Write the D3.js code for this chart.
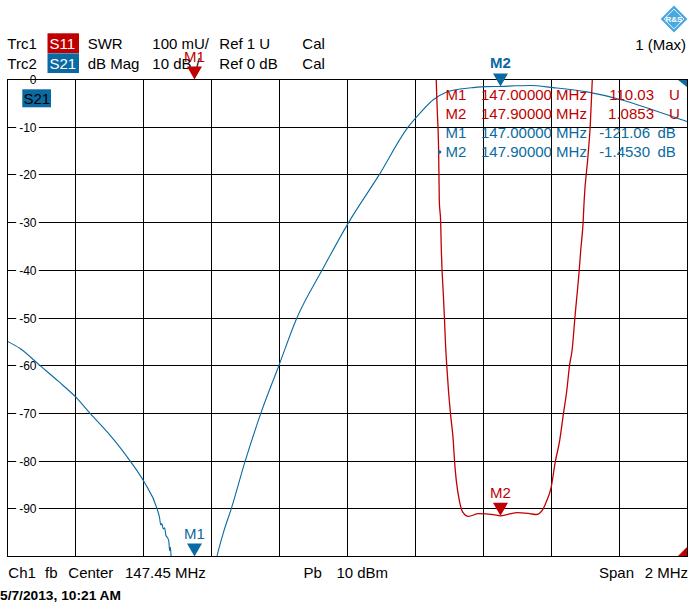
<!DOCTYPE html>
<html>
<head>
<meta charset="utf-8">
<title>Trc1 S11 SWR / Trc2 S21 dB Mag</title>
<script src="https://d3js.org/d3.v7.min.js"></script>
<style>
  body { margin: 0; background: #fff; }
  text { font-family: "Liberation Sans", Arial, sans-serif; }
  .grid line { stroke: #000; stroke-width: 1; shape-rendering: crispEdges; }
</style>
</head>
<body>
<script>
/* ---------- data ---------- */
var freqStart = 146.45, freqStop = 148.45;        // center 147.45 MHz, span 2 MHz
var dbTicks = [0, -10, -20, -30, -40, -50, -60, -70, -80, -90];

// Trc2: S21, dB Mag (MHz, dB)
var s21Freq = [146.450, 146.487, 146.546, 146.600, 146.651, 146.693, 146.752, 146.811, 146.852, 146.890,
               146.897, 146.901, 146.904, 146.908, 146.912, 146.916, 146.920, 146.924, 146.927, 146.929,
               146.932, 146.940, 146.970, 147.000, 147.040, 147.066, 147.085, 147.108, 147.149, 147.195,
               147.248, 147.301, 147.375, 147.453, 147.543, 147.628, 147.664, 147.703, 147.742, 147.781,
               147.820, 147.860, 147.900, 147.945, 147.987, 148.055, 148.154, 148.252, 148.349, 148.449];
var s21Db   = [-54.9, -56.4, -60.0, -63.3, -66.6, -70.0, -74.6, -80.0, -84.4, -90.0,
               -91.8, -93.4, -93.1, -94.2, -94.0, -95.6, -96.0, -96.6, -98.8, -98.0,
               -101.0, -106.0, -112.0, -121.06, -110.0, -100.0, -95.0, -90.0, -80.0, -70.0,
               -60.0, -50.0, -40.0, -30.0, -20.0, -10.0, -7.0, -4.2, -2.6, -2.0,
               -1.7, -1.5, -1.453, -1.32, -1.25, -1.7, -2.6, -4.2, -6.4, -8.8];

// Trc1: S11, SWR (MHz, U)
var s11Freq = [146.450, 147.000, 147.600, 147.700, 147.711, 147.714, 147.718, 147.720, 147.724, 147.726,
               147.732, 147.735, 147.738, 147.742, 147.747, 147.753, 147.761, 147.765, 147.770, 147.779,
               147.789, 147.806, 147.835, 147.879, 147.900, 147.948, 147.985, 148.007, 148.022, 148.036,
               148.049, 148.061, 148.074, 148.085, 148.095, 148.103, 148.111, 148.119, 148.131, 148.136,
               148.143, 148.146, 148.157, 148.164, 148.170, 148.173, 148.190, 148.450];
var s11Swr  = [25.0, 110.03, 8.0, 2.6, 2.0, 1.935, 1.851, 1.746, 1.701, 1.642,
               1.547, 1.502, 1.449, 1.400, 1.348, 1.299, 1.243, 1.198, 1.159, 1.117,
               1.093, 1.084, 1.090, 1.088, 1.0853, 1.092, 1.090, 1.088, 1.096, 1.117,
               1.145, 1.198, 1.243, 1.299, 1.348, 1.400, 1.435, 1.502, 1.596, 1.642,
               1.701, 1.746, 1.837, 1.904, 2.0, 2.04, 3.0, 30.0];

var markerNames = ["M1", "M2"];
var markerFreq  = [147.0, 147.9];
var markerS11   = [110.03, 1.0853];
var markerS21   = [-121.06, -1.453];
var markerS11Text = ["110.03", "1.0853"];
var markerS21Text = ["-121.06", "-1.4530"];

/* ---------- layout ---------- */
var red = "#c00000", blue = "#0b6aa2";
var width = 695, height = 613;
var plot = {left: 7.5, top: 79.5, width: 680, height: 477};
var bottomY = plot.top + plot.height, rightX = plot.left + plot.width;

var svg = d3.select("body").append("svg")
    .attr("width", width).attr("height", height);

var x = d3.scaleLinear().domain([freqStart, freqStop]).range([plot.left, rightX]);
var yDb = d3.scaleLinear().domain([-100, 0]).range([bottomY, plot.top]);
var ySwr = d3.scaleLinear().domain([1, 2]).range([bottomY, plot.top]);

/* ---------- header ---------- */
var traceInfo = [
  {trc: "Trc1", param: "S11", format: "SWR", scale: "100 mU/", ref: "Ref 1 U", cal: "Cal", color: red},
  {trc: "Trc2", param: "S21", format: "dB Mag", scale: "10 dB /", ref: "Ref 0 dB", cal: "Cal", color: blue}
];
traceInfo.forEach(function(t, i){
  var base = 48.5 + i * 20;
  svg.append("rect").attr("x", 47.5).attr("y", base - 15.2).attr("width", 31.5).attr("height", 19.7)
     .attr("fill", t.color);
  svg.append("text").attr("x", 49.5).attr("y", base).attr("font-size", 15).attr("fill", "#fff").text(t.param);
  [[7.3, t.trc], [87.7, t.format], [152.3, t.scale], [219.3, t.ref], [302.3, t.cal]].forEach(function(p){
    svg.append("text").attr("x", p[0]).attr("y", base).attr("font-size", 15).attr("fill", "#000").text(p[1]);
  });
});

svg.append("text").attr("x", 686).attr("y", 50).attr("text-anchor", "end")
   .attr("font-size", 15).text("1 (Max)");

// R&S logo
var logo = svg.append("g").attr("transform", "translate(674,19)");
logo.append("rect").attr("x", -9.5).attr("y", -9.5).attr("width", 19).attr("height", 19)
    .attr("transform", "rotate(45)").attr("fill", "#4aa8df");
logo.append("rect").attr("x", -7).attr("y", -7).attr("width", 14).attr("height", 14)
    .attr("transform", "rotate(45)").attr("fill", "none").attr("stroke", "#fff").attr("stroke-width", 0.8);
logo.append("text").attr("x", 0).attr("y", 3).attr("text-anchor", "middle")
    .attr("font-size", 8).attr("font-weight", "bold").attr("fill", "#fff").text("R&S");

/* ---------- grid ---------- */
var freqGrid = d3.range(11).map(function(i){ return freqStart + i * 0.2; });
var dbGrid = d3.range(11).map(function(i){ return -i * 10; });
var grid = svg.append("g").attr("class", "grid");
grid.selectAll(".v").data(freqGrid).enter().append("line")
    .attr("x1", function(d){ return Math.round(x(d) - 0.5) + 0.5; })
    .attr("x2", function(d){ return Math.round(x(d) - 0.5) + 0.5; })
    .attr("y1", plot.top).attr("y2", bottomY);
grid.selectAll(".h").data(dbGrid).enter().append("line")
    .attr("y1", function(d){ return Math.round(yDb(d) - 0.5) + 0.5; })
    .attr("y2", function(d){ return Math.round(yDb(d) - 0.5) + 0.5; })
    .attr("x1", plot.left).attr("x2", rightX);

// y labels with white background
var yLab = svg.append("g");
dbTicks.forEach(function(v){
  var t = yLab.append("text").attr("x", 36.5).attr("y", yDb(v) + 4.5).attr("text-anchor", "end")
      .attr("font-size", 12).text(v);
  var b = t.node().getBBox();
  yLab.insert("rect", "text").attr("x", b.x - 3).attr("y", yDb(v) - 1).attr("width", b.width + 5)
      .attr("height", 2).attr("fill", "#fff");
});

// S21 label inside the diagram
svg.append("rect").attr("x", 22.3).attr("y", 89.3).attr("width", 28.7).attr("height", 18).attr("fill", blue);
svg.append("text").attr("x", 23.5).attr("y", 104).attr("font-size", 15).attr("fill", "#000").text("S21");

/* ---------- traces ---------- */
svg.append("clipPath").attr("id", "plotClip").append("rect")
   .attr("x", plot.left).attr("y", plot.top).attr("width", plot.width).attr("height", plot.height);

var s21Line = d3.line().x(function(d){ return x(d[0]); }).y(function(d){ return yDb(d[1]); })
    .curve(d3.curveMonotoneX);
var s11Line = d3.line().x(function(d){ return x(d[0]); }).y(function(d){ return ySwr(d[1]); })
    .curve(d3.curveMonotoneX);

var traces = svg.append("g").attr("clip-path", "url(#plotClip)");
traces.append("path").datum(d3.zip(s21Freq, s21Db)).attr("d", s21Line)
    .attr("fill", "none").attr("stroke", blue).attr("stroke-width", 1.1);
traces.append("path").datum(d3.zip(s11Freq, s11Swr)).attr("d", s11Line)
    .attr("fill", "none").attr("stroke", red).attr("stroke-width", 1.3);

// reference position wedges
svg.append("path").attr("d", "M" + (rightX - 10) + "," + plot.top + "L" + rightX + "," + plot.top +
    "L" + rightX + "," + (plot.top + 8) + "Z").attr("fill", blue);
svg.append("path").attr("d", "M" + (rightX - 10) + "," + bottomY + "L" + rightX + "," + bottomY +
    "L" + rightX + "," + (bottomY - 10) + "Z").attr("fill", red);

// frame
svg.append("rect").attr("x", plot.left).attr("y", plot.top).attr("width", plot.width).attr("height", plot.height)
   .attr("fill", "none").attr("stroke", "#000").attr("shape-rendering", "crispEdges");

/* ---------- markers ---------- */
function clampY(v){ return Math.max(plot.top, Math.min(bottomY, v)); }
function drawMarker(fx, yy, name, color, bold){
  var px = x(fx), py = clampY(yy);
  svg.append("path").attr("d", "M" + (px - 7.5) + "," + (py - 13) + "L" + (px + 7.5) + "," + (py - 13) +
      "L" + px + "," + py + "Z").attr("fill", color);
  svg.append("text").attr("x", px).attr("y", py - 18).attr("text-anchor", "middle")
     .attr("font-size", 15).attr("font-weight", bold ? "bold" : "normal").attr("fill", color).text(name);
}
markerNames.forEach(function(m, i){
  drawMarker(markerFreq[i], ySwr(markerS11[i]), m, red, false);
  drawMarker(markerFreq[i], yDb(markerS21[i]), m, blue, i == 1);
});

// marker info table
var rows = [];
markerNames.forEach(function(m, i){ rows.push({name: m, f: markerFreq[i], val: markerS11Text[i], unit: "U", color: red}); });
markerNames.forEach(function(m, i){ rows.push({name: m, f: markerFreq[i], val: markerS21Text[i], unit: "dB", color: blue, active: i == 1}); });
rows.forEach(function(r, i){
  var base = 100 + i * 19;
  var g = svg.append("g").attr("fill", r.color).attr("font-size", 15);
  if (r.active) g.append("circle").attr("cx", 439.5).attr("cy", base - 5).attr("r", 1.8);
  g.append("text").attr("x", 445.5).attr("y", base).text(r.name);
  g.append("text").attr("x", 481).attr("y", base).text(r.f.toFixed(5) + " MHz");
  g.append("text").attr("x", r.unit == "U" ? 654 : 650).attr("y", base).attr("text-anchor", "end").text(r.val);
  g.append("text").attr("x", r.unit == "U" ? 669 : 657.5).attr("y", base).text(r.unit);
});

/* ---------- footer ---------- */
[[8.3, "Ch1"], [45, "fb"], [68.3, "Center"], [125, "147.45 MHz"], [303.6, "Pb"], [336.4, "10 dBm"], [599, "Span"]]
  .forEach(function(p){
    svg.append("text").attr("x", p[0]).attr("y", 578).attr("font-size", 15).text(p[1]);
  });
svg.append("text").attr("x", 688).attr("y", 578).attr("text-anchor", "end").attr("font-size", 15).text("2 MHz");
svg.append("text").attr("x", 0).attr("y", 600).attr("font-size", 12.5).attr("font-weight", "bold")
   .attr("textLength", 121).attr("lengthAdjust", "spacingAndGlyphs").text("5/7/2013, 10:21 AM");
</script>
</body>
</html>
